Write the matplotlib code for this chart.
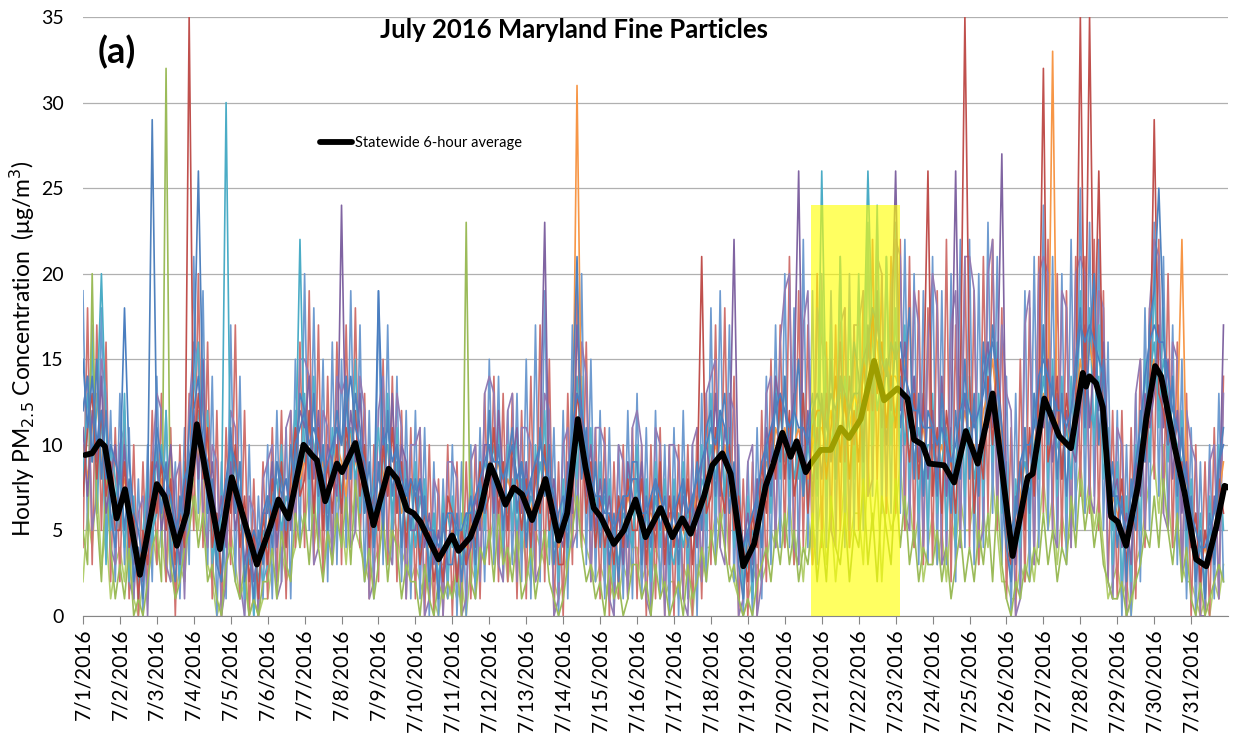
import numpy as np
import matplotlib
matplotlib.use("Agg")
import matplotlib.pyplot as plt
from matplotlib.patches import Rectangle

plt.rcParams['font.family'] = ['Lato', 'DejaVu Sans']

# ---- data -------------------------------------------------------------
DAY_LABELS = [f"7/{d}/2016" for d in range(1, 32)]
SAMPLE_STEP_H = 3          # monitor readings every 3 hours, 8 per day

# Monitor readings (ug/m3), 8 readings per day, 4 days per source row
MON_BLUE = [
    12,14,9,15,8,12,6,4, 9,5,8,2,4,1,7,29, 10,6,9,4,2,7,5,11, 14,26,12,6,8,3,2,7,
    11,6,9,2,4,1,5,3, 7,4,9,8,5,10,7,13, 12,8,13,7,10,5,9,12, 10,14,8,13,11,6,9,4,
    9,5,12,7,10,4,8,5, 8,4,7,2,5,1,6,3, 3,6,2,5,7,3,8,6, 12,7,10,5,9,11,6,9,
    4,8,5,11,7,10,3,6, 7,4,12,21,8,11,5,9, 4,8,3,6,2,7,4,9, 9,3,7,4,8,5,7,3,
    7,3,8,4,6,9,5,11, 12,7,11,13,6,9,3,1, 5,2,7,4,10,7,13,9, 14,8,12,15,7,11,13,8,
    13,9,15,8,14,10,12,16, 14,9,17,13,19,11,15,12, 16,11,14,18,8,13,7,12, 11,7,13,10,6,12,8,15,
    8,13,7,16,11,17,14,7, 4,2,7,5,11,6,13,10, 17,10,14,8,13,7,12,15, 18,11,16,20,10,15,6,9,
    4,7,2,8,5,12,9,17, 19,25,17,10,14,7,11,5, 7,2,5,1,6,3,9,11,
]
MON_RED = [
    7,11,13,8,12,7,9,5, 5,9,4,6,1,5,3,9, 6,9,5,8,3,6,4,35, 9,13,8,11,4,6,2,8,
    6,10,4,7,2,5,1,6, 3,8,5,9,4,8,11,7, 8,12,6,11,5,9,6,10, 6,11,9,12,7,10,4,7,
    5,10,7,11,6,9,4,8, 7,3,6,5,2,4,2,7, 6,2,5,3,6,4,9,6, 7,11,6,9,5,10,8,5,
    8,4,9,6,10,5,7,3, 3,8,7,13,11,6,9,4, 7,4,6,3,7,4,8,5, 5,8,3,7,4,9,3,7,
    4,7,5,8,3,7,21,6, 7,11,8,6,10,5,7,4, 2,6,4,9,6,11,8,13, 8,12,7,9,13,6,11,12,
    12,8,11,14,9,13,8,12, 9,15,12,18,13,16,11,14, 11,15,12,9,13,8,12,26, 7,11,6,12,9,6,13,35,
    14,6,10,8,14,10,15,11, 4,3,6,9,5,11,7,13, 32,9,11,14,8,13,10,12, 35,12,35,14,26,11,8,6,
    5,8,3,6,5,10,9,12, 29,13,12,10,11,8,9,6, 4,6,2,5,3,4,8,6,
]
MON_GREEN = [
    5,3,20,6,2,8,4,1, 3,1,4,0,1,0,2,4, 5,2,32,3,1,2,4,5, 7,4,6,2,3,1,0,3,
    4,2,1,3,0,1,0,2, 2,4,1,5,3,2,6,4, 6,3,7,4,2,5,3,6, 4,7,3,8,5,2,4,1,
    3,6,2,5,4,1,3,2, 2,0,3,1,0,2,1,2, 1,3,0,23,2,1,4,3, 5,2,6,3,4,2,5,1,
    2,4,1,3,5,2,1,0, 1,3,5,7,4,2,3,1, 2,0,3,1,2,0,1,3, 3,1,2,0,3,1,2,0,
    1,2,0,3,1,2,4,2, 5,3,6,4,2,3,1,0, 1,0,2,3,4,2,5,3, 6,3,5,2,4,3,6,2,
    5,2,7,4,3,6,2,5, 4,8,3,6,2,7,5,3, 8,4,7,3,5,2,4,3, 3,5,2,4,1,3,5,2,
    4,2,5,3,6,2,7,3, 1,0,2,1,3,2,4,3, 6,3,5,2,4,3,7,4, 8,5,7,4,6,3,2,1,
    1,2,0,1,2,3,5,4, 7,4,8,5,3,6,2,4, 1,0,2,0,1,2,3,2,
]
MON_PURPLE = [
    11,7,12,9,14,6,8,10, 6,10,5,3,4,2,6,8, 9,5,7,10,6,3,8,6, 12,8,15,6,9,5,7,4,
    9,5,7,3,5,2,4,6, 6,9,4,7,8,5,10,12, 11,14,8,12,6,10,9,7, 24,8,12,9,13,8,5,7,
    8,11,7,13,6,10,9,5, 5,8,4,6,3,5,2,4, 6,2,5,3,4,7,5,10, 10,6,12,8,5,9,11,6,
    9,5,8,10,23,6,8,5, 4,9,6,17,12,7,10,5, 8,5,7,4,6,3,9,7, 6,9,4,7,5,8,4,6,
    6,4,7,5,7,4,9,10, 8,13,7,11,9,22,6,4, 6,3,8,6,11,9,14,12, 12,10,13,26,8,12,7,11,
    8,13,9,11,16,9,14,10, 13,10,16,12,18,14,10,15, 26,12,16,11,14,9,13,8, 12,8,14,7,11,26,9,13,
    9,12,8,14,16,11,13,27, 7,5,3,9,6,10,8,14, 11,15,9,13,8,12,10,9, 12,17,11,15,12,16,10,7,
    8,4,6,3,9,7,13,11, 13,17,11,15,8,12,6,9, 4,6,2,5,3,7,5,17,
]
MON_AQUA = [
    8,13,9,12,20,11,5,7, 8,4,7,5,2,4,6,5, 6,10,5,7,5,3,7,9, 10,12,8,9,5,3,6,30,
    7,9,5,6,3,4,2,5, 4,7,8,5,7,6,8,22, 9,12,10,7,8,6,10,11, 7,10,11,8,10,6,7,4,
    6,9,10,6,9,7,5,8, 4,7,5,3,6,2,5,6, 4,5,3,6,4,6,7,9, 8,10,7,9,6,8,5,8,
    5,7,6,9,7,8,4,5, 6,5,10,14,9,10,6,7, 5,7,4,5,3,6,5,4, 8,4,6,3,7,5,6,4,
    3,6,4,6,5,4,8,7, 10,8,12,7,9,6,4,2, 3,5,4,8,7,10,9,12, 9,11,8,10,7,10,8,9,
    26,11,10,12,9,14,11,9, 12,14,26,16,12,14,15,11, 12,14,10,13,9,11,8,10, 10,8,9,11,7,9,12,10,
    11,8,10,9,13,12,10,8, 5,3,6,8,9,7,10,11, 14,11,12,10,9,11,8,13, 13,15,12,11,14,10,9,5,
    7,4,5,6,8,10,12,14, 16,12,15,13,11,10,9,6, 6,3,4,2,5,4,8,7,
]
MON_ORANGE = [
    10,8,11,13,9,10,8,7, 6,8,7,5,3,4,6,8, 7,8,6,5,4,6,5,7, 11,9,13,10,7,4,5,7,
    8,7,6,5,3,4,2,4, 5,7,6,8,5,7,10,8, 9,11,10,8,9,7,8,10, 9,7,11,9,8,9,6,5,
    7,8,10,8,9,6,7,6, 6,5,6,4,4,3,3,4, 5,4,5,4,5,6,5,7, 9,8,9,7,8,7,8,6,
    7,6,8,7,9,6,6,4, 5,7,8,31,10,9,7,6, 6,5,5,4,6,5,7,6, 7,5,6,6,5,7,5,6,
    5,6,5,4,6,7,6,8, 9,10,8,10,7,8,5,3, 4,5,6,7,9,8,11,10, 11,9,10,11,9,8,10,11,
    11,10,12,9,13,12,11,13, 12,14,15,17,16,13,15,14, 14,13,15,12,11,10,11,9, 10,9,10,8,9,8,10,12,
    10,10,9,12,13,15,12,10, 6,5,4,7,9,8,10,12, 13,12,33,11,10,11,10,12, 15,13,16,14,13,12,9,7,
    6,5,4,6,7,8,12,14, 15,14,13,12,10,11,22,8, 5,4,3,4,3,5,7,9,
]
MON_LIME = [
    2,6,4,8,3,5,1,3, 4,2,6,1,0,2,3,5, 3,5,2,6,1,3,2,6, 8,5,9,3,2,0,1,3,
    5,3,1,2,0,1,0,1, 1,3,2,4,2,3,4,6, 5,8,4,6,3,5,4,7, 6,3,7,5,4,3,2,3,
    4,5,3,6,5,3,4,2, 3,2,1,3,1,0,2,1, 2,1,2,0,3,2,3,4, 4,6,3,5,2,4,3,5,
    3,2,5,4,3,5,2,1, 2,4,6,8,5,4,3,2, 3,2,1,2,1,3,2,4, 4,2,3,2,4,3,1,2,
    2,1,3,2,0,3,2,4, 4,6,5,7,3,2,1,0, 1,2,3,2,3,5,4,6, 4,7,3,5,2,6,3,5,
    7,3,6,2,5,8,4,6, 6,3,9,5,8,2,7,5, 6,9,5,7,4,6,2,4, 6,3,5,2,6,4,7,5,
    5,7,3,6,4,8,5,2, 2,1,1,3,2,4,2,5, 8,5,7,3,6,4,5,7, 9,6,8,5,7,4,1,2,
    3,1,2,0,3,4,6,8, 9,6,10,7,4,5,3,2, 2,1,0,1,0,2,1,3,
]
MON_NAVY = [
    15,11,14,10,12,8,10,9, 8,18,9,6,5,3,4,7, 11,9,8,7,5,6,8,9, 12,14,10,9,7,5,6,8,
    10,9,7,5,4,5,4,6, 7,6,9,7,8,6,10,11, 12,10,11,10,8,9,10,11, 10,12,14,11,10,9,7,6,
    19,10,11,9,10,8,7,8, 7,8,6,5,5,4,5,6, 6,5,5,6,6,7,8,9, 10,9,9,8,9,10,8,9,
    7,8,9,10,9,8,7,5, 6,8,11,13,12,10,8,7, 7,6,6,5,6,7,7,8, 8,6,6,7,8,7,6,5,
    6,7,8,6,7,8,9,10, 11,10,12,11,9,8,6,4, 5,6,7,9,10,11,12,13, 12,11,12,11,11,10,12,13,
    12,11,13,12,14,13,12,13, 13,15,16,18,17,15,14,16, 15,16,14,13,12,12,11,11, 11,10,11,10,9,10,12,13,
    12,11,12,13,15,16,14,11, 7,5,6,9,10,10,11,14, 15,14,13,12,12,11,12,14, 17,16,17,16,15,14,10,7,
    7,6,5,7,9,11,14,16, 17,16,16,14,12,11,10,8, 6,5,4,4,5,6,9,10,
]
MON_SKY = [
    19,5,17,6,18,4,12,2, 13,3,11,1,8,0,10,2, 14,4,12,2,9,1,11,3, 21,6,19,3,14,0,9,1,
    17,2,14,0,10,0,7,1, 10,1,12,2,11,1,15,4, 20,5,18,4,15,2,16,3, 15,4,19,5,17,2,12,1,
    19,3,17,3,14,2,12,1, 12,1,11,0,9,0,8,1, 10,0,9,0,10,1,11,2, 15,3,14,2,12,3,13,2,
    15,1,17,2,19,3,11,0, 12,1,17,4,20,3,15,2, 12,1,11,0,10,1,12,1, 13,1,11,0,12,1,10,0,
    11,0,12,1,10,0,13,2, 18,3,19,4,17,2,10,0, 9,0,11,1,14,3,17,4, 20,4,18,3,22,4,19,3,
    20,4,19,5,21,4,20,5, 19,5,22,7,23,6,21,6, 23,6,22,5,20,3,19,3, 21,3,19,3,20,2,22,4,
    22,3,20,4,23,6,21,3, 14,0,13,1,19,2,21,4, 24,5,21,4,20,3,22,5, 25,6,23,7,22,5,16,1,
    12,0,10,0,13,2,18,5, 23,7,21,5,17,3,15,1, 11,0,9,0,10,1,13,2,
]
MON_ROSE = [
    4,18,3,17,5,16,2,11, 2,12,1,10,0,9,1,12, 3,13,2,11,0,10,2,13, 5,20,4,16,1,12,0,11,
    3,17,1,12,0,8,0,9, 1,11,2,12,1,12,4,16, 4,19,3,17,2,14,3,16, 3,17,5,18,4,13,1,10,
    2,15,3,14,2,12,1,11, 1,11,0,10,0,8,0,10, 0,9,0,9,1,10,1,13, 3,14,2,13,2,13,1,12,
    1,14,2,17,2,15,0,9, 0,13,3,20,4,16,2,11, 1,11,0,9,1,10,1,11, 1,10,0,10,1,11,0,10,
    0,10,1,10,0,11,1,13, 3,17,4,18,3,14,0,8, 0,9,0,12,2,15,4,17, 4,21,3,19,4,17,3,20,
    4,16,5,17,5,18,4,17, 5,19,7,22,8,20,6,21, 6,22,5,21,4,19,3,18, 3,19,3,22,2,17,4,21,
    4,19,3,21,6,22,5,18, 1,11,0,15,2,18,3,21, 6,22,5,20,4,19,4,21, 7,21,6,22,5,19,2,12,
    1,12,0,11,1,15,4,18, 8,22,6,20,4,16,2,13, 0,10,0,9,0,11,1,14,
]
MON_LILAC = [
    12,14,5,7,15,13,4,3, 10,11,2,1,6,7,0,9, 13,12,3,2,8,9,1,12, 16,15,6,4,10,9,0,2,
    12,11,2,0,7,6,0,8, 9,10,1,2,11,12,5,15, 15,14,3,4,12,11,3,14, 13,14,4,5,14,12,1,2,
    12,14,4,3,13,11,1,10, 10,11,0,1,8,7,0,9, 9,8,0,1,9,10,2,13, 14,13,3,2,12,13,2,11,
    11,10,2,3,13,12,0,1, 10,11,4,5,16,14,2,11, 11,10,1,0,10,9,1,11, 12,10,1,0,11,10,0,10,
    10,9,1,0,10,11,2,13, 14,15,4,3,13,12,0,1, 9,10,0,2,13,14,4,16, 19,20,4,3,17,19,4,18,
    16,15,5,4,17,18,5,17, 17,19,7,8,21,20,7,19, 22,21,6,5,19,17,4,16, 20,18,3,4,17,19,4,21,
    21,19,4,5,20,22,6,17, 13,12,0,1,17,19,3,20, 21,20,5,4,19,18,4,20, 21,20,7,6,19,18,2,1,
    11,10,0,1,13,15,5,18, 22,21,6,5,16,15,2,12, 10,9,0,0,9,10,1,13,
]
MON_TEAL = [
    7,11,16,6,12,3,10,8, 5,13,2,7,1,5,8,4, 10,5,12,3,6,2,9,7, 13,16,8,12,3,6,2,5,
    10,6,9,1,5,0,4,2, 3,9,5,10,4,8,12,7, 13,7,14,6,10,4,11,8, 6,13,8,15,6,10,4,8,
    11,6,13,5,11,4,9,3, 9,3,8,2,6,1,7,2, 7,2,6,3,8,2,9,5, 12,6,11,4,10,5,11,4,
    9,3,10,5,12,4,8,2, 8,3,13,8,14,6,11,4, 9,3,8,2,7,3,9,4, 10,3,8,2,9,4,8,2,
    8,2,9,3,7,4,10,5, 13,6,12,7,11,4,8,1, 7,1,8,4,11,6,14,8, 14,7,13,8,13,6,12,7,
    19,7,17,8,21,7,18,8, 20,8,23,10,24,9,21,10, 18,9,17,8,14,6,13,5, 13,6,12,5,11,4,14,7,
    14,6,13,7,16,9,16,6, 9,2,8,4,11,5,13,8, 17,8,15,7,14,6,14,9, 19,10,18,10,17,8,11,3,
    9,2,7,2,10,5,15,9, 20,11,18,9,14,6,12,4, 8,2,6,1,7,3,10,5,
]

# Statewide 6-hour running average: hour of month, value
AVG_HOURS = [1.3, 5.9, 11, 14.3, 21.9, 27.3, 37, 48, 53, 61, 67.4, 74, 89, 96.7, 113,
             121.6, 127, 133.5, 143.3, 148.7, 152, 157.4, 165, 168.3, 177, 188.8, 198.6,
             204, 210.5, 214.8, 219.2, 231, 239.8, 244, 251.7, 258.2, 264.7, 268, 274.5,
             279.9, 285.3, 291.8, 300.5, 309.1, 314.6, 321.5, 326.5, 331.9, 336.3, 344.9,
             351.4, 359, 365.5, 375.3, 382.9, 389.4, 394.8, 403.5, 408.9, 415.4, 420.8,
             429, 436, 443.6, 447.9, 454.4, 459.8, 463.7, 469.6, 472.8, 479.3, 485.8,
             492.3, 497.7, 505.3, 514, 520.5, 529.2, 535.7, 540, 545.5, 549.8, 559.5, 566,
             573.6, 581.3, 591, 604, 613.8, 617, 624.6, 634.3, 641.9, 649.6, 651.7, 653.9,
             658.2, 662.6, 668, 672.3, 677.7, 685.4, 690.8, 696.6, 700.5, 709.2, 715.7,
             723.3, 729.8, 736.3, 741.7, 744]
AVG_VALUES = [9.4, 9.5, 10.2, 9.9, 5.7, 7.4, 2.4, 7.7, 7.0, 4.1, 6.0, 11.2, 3.9, 8.1, 3.0,
              5.2, 6.8, 5.7, 10.0, 9.4, 9.1, 6.7, 8.9, 8.4, 10.1, 5.3, 8.6,
              8.0, 6.2, 6.0, 5.5, 3.3, 4.7, 3.8, 4.6, 6.2, 8.8, 8.1, 6.5,
              7.5, 7.1, 5.6, 8.0, 4.4, 6.0, 11.5, 8.7, 6.3, 5.8, 4.2,
              5.0, 6.8, 4.6, 6.3, 4.6, 5.7, 4.8, 7.0, 8.8, 9.5, 8.3,
              2.9, 4.2, 7.6, 8.7, 10.7, 9.3, 10.2, 8.4, 8.9, 9.7, 9.7,
              11.0, 10.4, 11.5, 14.9, 12.6, 13.3, 12.7, 10.3, 10.0, 8.9, 8.8, 7.8,
              10.8, 8.9, 13.0, 3.5, 8.1, 8.3, 12.7, 10.5, 9.8, 14.2, 13.4, 14.0,
              13.6, 12.2, 5.8, 5.5, 4.1, 7.6, 11.5, 14.6, 14.0, 9.9, 7.2,
              3.3, 2.9, 5.2, 7.6, 7.5]

# Highlighted episode (hours of month) and its height
EPISODE_START_H, EPISODE_END_H, EPISODE_TOP = 473, 531, 24

# ---- figure -----------------------------------------------------------
fig = plt.figure(figsize=(12.38, 7.42), dpi=100)
ax = fig.add_axes([0.067, 0.170, 0.925, 0.807])

monitors = [
    (MON_LIME, '#B3CF6E'),
    (MON_SKY, '#6F9BD0'),
    (MON_ROSE, '#D0726F'),
    (MON_LILAC, '#937BB3'),
    (MON_TEAL, '#55B0C9'),
    (MON_GREEN, '#9BBB59'),
    (MON_ORANGE, '#F79646'),
    (MON_AQUA, '#4BACC6'),
    (MON_PURPLE, '#8064A2'),
    (MON_RED, '#C0504D'),
    (MON_NAVY, '#4A7EC0'),
    (MON_BLUE, '#4F81BD'),
]
for vals, col in monitors:
    hrs = np.arange(len(vals)) * SAMPLE_STEP_H
    ax.plot(hrs, vals, color=col, lw=1.2, zorder=2)

ax.plot(AVG_HOURS, AVG_VALUES, color='black', lw=4.2, zorder=3,
        solid_joinstyle='round', solid_capstyle='round',
        label='Statewide 6-hour average')

ax.add_patch(Rectangle((EPISODE_START_H, 0), EPISODE_END_H - EPISODE_START_H,
                       EPISODE_TOP, facecolor='#FFFF00', alpha=0.62,
                       edgecolor='none', zorder=4))

ax.set_xlim(0, 744)
ax.set_ylim(0, 35)
ax.set_yticks(range(0, 36, 5))
ax.set_xticks(np.arange(31) * 24)
ax.set_xticklabels(DAY_LABELS, rotation=90, fontsize=15)
ax.tick_params(axis='y', length=0, labelsize=14, pad=14)
ax.tick_params(axis='x', length=6, color='#868686', pad=3)
ax.yaxis.grid(True, color='#B0B0B0', lw=0.9)
ax.set_axisbelow(True)
for side in ('top', 'right', 'left'):
    ax.spines[side].set_visible(False)
ax.spines['bottom'].set_color('#868686')

fig.text(0.464, 0.960, 'July 2016 Maryland Fine Particles', ha='center',
         va='center', fontsize=18.5, fontweight='bold')
fig.text(0.079, 0.930, '(a)', ha='left', va='center', fontsize=26,
         fontweight='bold')
fig.text(0.018, 0.530, r'Hourly PM$_{2.5}$ Concentration  ($\mathregular{\mu}$g/m$^3$)',
         rotation=90, ha='center', va='center', fontsize=16.5)

leg = ax.legend(loc='center left', bbox_to_anchor=(0.207, 0.790), frameon=False,
                fontsize=10.5, handlelength=2.2, handletextpad=0.2, borderpad=0,
                borderaxespad=0)

fig.savefig('out.png', dpi=100)
